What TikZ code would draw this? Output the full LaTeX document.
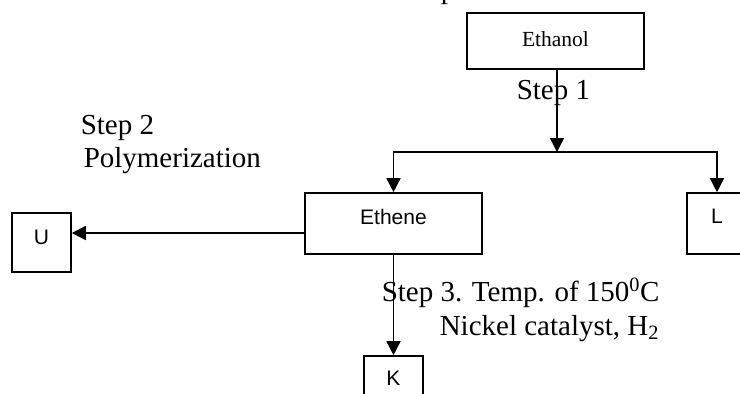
\documentclass[tikz,border=0pt]{standalone}
\usepackage{fontspec}
\setmainfont{Liberation Serif}
\newfontfamily\boxsans{Liberation Sans}
\usetikzlibrary{arrows.meta}
\begin{document}
\begin{tikzpicture}[x=1pt,y=-1pt,
  every path/.style={line width=1.5pt},
  arr/.style={-{Triangle[length=14pt,width=14pt]}},
  boxnode/.style={draw,line width=1.6pt,inner sep=0pt,text height=15pt,
    font=\boxsans\fontsize{21}{21}\selectfont},
  steptext/.style={anchor=base west,inner sep=0pt,font=\fontsize{29}{29}\selectfont}]
\useasboundingbox (0,0) rectangle (740,394);
% boxes
\node[boxnode,minimum width=177pt,minimum height=56pt,text height=14pt,text depth=4pt,
  font=\fontsize{21.5}{21.5}\selectfont] (ethanol) at (555.5,41) {Ethanol};
\node[boxnode,minimum width=177pt,minimum height=61pt,text depth=14pt] (ethene) at (393.5,223.5) {Ethene};
\node[boxnode,minimum width=60pt,minimum height=61pt,text depth=16pt] (L) at (717,223.5) {L};
\node[boxnode,minimum width=59pt,minimum height=59pt,text depth=12pt] (U) at (41.5,242.5) {U};
\node[boxnode,minimum width=59pt,minimum height=44pt,text depth=0pt] (K) at (393.5,378) {K};
\coordinate (j) at (557,152);
% connectors
\draw[arr] (ethanol.south -| j) -- (j);
\draw[arr] (j) -| (ethene.north);
\draw[arr] (j) -| (L.north);
\draw[arr] (ethene.west |- 0,233) -- (U.east |- 0,233);
\draw[arr] (ethene.south) -- (K.north);
% texts
\node[steptext] (t0) at (440,-1.5) {p};
\node[steptext] (t1) at (516,99) {Step 1};
\node[steptext] (t2) at (80,134) {Step 2};
\node[steptext] (t3) at (83,167) {Polymerization};
\node[steptext] (t4) at (381,301) {Step 3. Temp. of 150\textsuperscript{0}C};
\node[steptext] (t5) at (439,335) {Nickel catalyst, H\textsubscript{2}};
\end{tikzpicture}
\end{document}
